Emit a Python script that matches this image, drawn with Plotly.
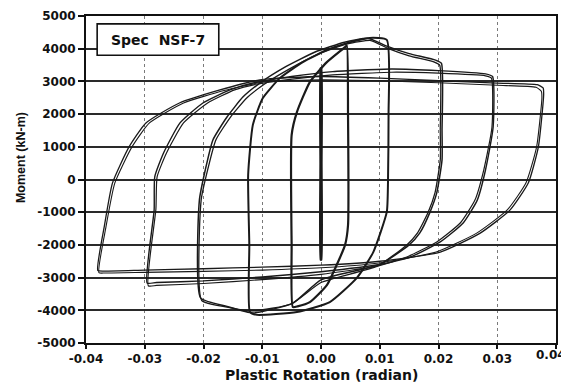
import plotly.graph_objects as go

# ---- data (plastic rotation [rad], moment [kN-m]) ----
cycle1_rot = [0.00005, 0.00008, 0.00005, -0.00005, -0.00008, -0.00005, 0.00005]
cycle1_mom = [3400, 500, -2450, -2450, 500, 3400, 3400]

cycle2_rot = [0.0044, 0.0046, 0.0046, 0.0041, 0.0032, 0.0010, -0.0019, -0.0040, -0.0048,
              -0.0050, -0.0050, -0.0041, -0.0019, 0.0010, 0.0041, 0.0044]
cycle2_mom = [4100, 2000, -1400, -2000, -2400, -3230, -3750, -3880, -3900,
              -2000, 1360, 2060, 2980, 3590, 4050, 4100]

cycle3_rot = [0.0112, 0.0115, 0.0114, 0.0112, 0.0089, 0.0061, 0.0015, -0.0041, -0.0109, -0.0121,
              -0.0122, -0.0124, -0.0116, -0.0099, -0.0070, -0.0031, 0.0010, 0.0044, 0.0083, 0.0112]
cycle3_mom = [4270, 2000, -100, -990, -2220, -3010, -3750, -4050, -4140, -4050,
              -2000, 140, 1670, 2490, 3100, 3590, 3960, 4170, 4330, 4270]

cycle4_rot = [-0.0205, -0.0207, -0.0197, -0.0184, -0.0160, -0.0133, -0.0104, -0.0060, -0.0010,
              0.0040, 0.0080, 0.0112, 0.0150, 0.0195, 0.0205,
              0.0206, 0.0206, 0.0197, 0.0185, 0.0168, 0.0150, 0.0100, 0.0000, -0.0048,
              -0.0116, -0.0160, -0.0205]
cycle4_mom = [-3620, -630, 290, 1210, 1910, 2520, 2950, 3450, 3900,
              4200, 4320, 4080, 3850, 3650, 3550,
              1500, 600, -410, -1020, -1640, -2000, -2600, -3070, -3780,
              -4080, -3880, -3620]

cycle4b_rot = [-0.0203, -0.0204, -0.0193, -0.0179, -0.0154, -0.0126, -0.0096, -0.0052, -0.0003,
               0.0045, 0.0085, 0.0115, 0.0150, 0.0192, 0.0202,
               0.0203, 0.0203, 0.0194, 0.0182, 0.0164, 0.0146, 0.0096, 0.0000, -0.0050,
               -0.0116, -0.0160, -0.0203]
cycle4b_mom = [-3700, -630, 290, 1210, 1910, 2500, 2920, 3400, 3850,
               4150, 4250, 4000, 3780, 3600, 3500,
               1500, 600, -410, -1020, -1640, -2000, -2650, -3150, -3800,
               -4020, -3900, -3700]

cycle5_rot = [-0.0296, -0.0284, -0.0283, -0.0268, -0.0240, -0.0201, -0.0155, -0.0116, -0.0050,
              0.0020, 0.0120, 0.0200, 0.0280, 0.0292,
              0.0293, 0.0280, 0.0266, 0.0242, 0.0203, 0.0152, 0.0100, 0.0000, -0.0100,
              -0.0200, -0.0280, -0.0296]
cycle5_mom = [-3165, -930, 80, 810, 1730, 2340, 2740, 2950, 3150,
              3300, 3380, 3330, 3230, 3150,
              1600, 290, -630, -1330, -1910, -2370, -2600, -2820, -2980,
              -3100, -3150, -3165]

cycle5b_rot = [-0.0294, -0.0281, -0.0279, -0.0263, -0.0234, -0.0193, -0.0147, -0.0108, -0.0045,
               0.0020, 0.0120, 0.0200, 0.0280, 0.0290,
               0.0291, 0.0277, 0.0262, 0.0237, 0.0197, 0.0146, 0.0095, 0.0000, -0.0100,
               -0.0200, -0.0280, -0.0294]
cycle5b_mom = [-3250, -900, 80, 810, 1730, 2340, 2740, 2920, 3080,
               3200, 3280, 3250, 3170, 3100,
               1600, 290, -630, -1330, -1910, -2370, -2650, -2900, -3060,
               -3180, -3240, -3250]

cycle6_rot = [-0.0380, -0.0369, -0.0355, -0.0327, -0.0298, -0.0241, -0.0172, -0.0104, 0.0000,
              0.0100, 0.0200, 0.0300, 0.0368, 0.0378,
              0.0379, 0.0370, 0.0353, 0.0322, 0.0271, 0.0203, 0.0100, 0.0000, -0.0100,
              -0.0200, -0.0300, -0.0370, -0.0380]
cycle6_mom = [-2780, -1450, -110, 990, 1730, 2340, 2740, 3050, 3150,
              3100, 3020, 2950, 2900, 2800,
              2600, 1000, -100, -930, -1640, -2220, -2500, -2620, -2680,
              -2730, -2770, -2800, -2780]

cycle6b_rot = [-0.0378, -0.0366, -0.0351, -0.0322, -0.0292, -0.0234, -0.0165, -0.0098, 0.0000,
               0.0100, 0.0200, 0.0300, 0.0366, 0.0375,
               0.0376, 0.0367, 0.0349, 0.0317, 0.0265, 0.0196, 0.0095, 0.0000, -0.0100,
               -0.0200, -0.0300, -0.0368, -0.0378]
cycle6b_mom = [-2850, -1450, -110, 990, 1730, 2340, 2720, 2980, 3050,
               3020, 2960, 2880, 2820, 2700,
               2500, 1000, -100, -930, -1640, -2220, -2560, -2700, -2770,
               -2810, -2840, -2860, -2850]

x_ticks = [-0.04, -0.03, -0.02, -0.01, 0.0, 0.01, 0.02, 0.03, 0.04]
x_tick_labels = ["-0.04", "-0.03", "-0.02", "-0.01", "0.00", "0.01", "0.02", "0.03", "0.04"]
y_ticks = [5000, 4000, 3000, 2000, 1000, 0, -1000, -2000, -3000, -4000, -5000]
y_tick_labels = [str(v) for v in y_ticks]
specimen_label = "Spec  NSF-7"

cycles = [(cycle1_rot, cycle1_mom, 2.4), (cycle2_rot, cycle2_mom, 2.2), (cycle3_rot, cycle3_mom, 2.0),
          (cycle4_rot, cycle4_mom, 1.5), (cycle4b_rot, cycle4b_mom, 1.3),
          (cycle5_rot, cycle5_mom, 1.4), (cycle5b_rot, cycle5b_mom, 1.2),
          (cycle6_rot, cycle6_mom, 1.3), (cycle6b_rot, cycle6b_mom, 1.1)]

fig = go.Figure()
for i, (xr, ym, w) in enumerate(cycles):
    fig.add_trace(go.Scatter(
        x=xr, y=ym, mode="lines",
        line=dict(color="#1a1a1a", width=w, shape="spline", smoothing=0.5),
        showlegend=False, hoverinfo="skip", name=f"cycle {i+1}"))

tick_font = dict(family="DejaVu Sans", size=12, color="#111", weight="bold")
# last x tick label is drawn as a right-aligned annotation so it stays inside the page
shown_x_labels = x_tick_labels[:-1] + [""]
# the page body adds an 8px offset, so the margins are reduced by 8px on the left/top
fig.update_layout(
    width=569, height=385,
    margin=dict(l=78, r=21, t=8, b=50),
    paper_bgcolor="white", plot_bgcolor="white",
    font=dict(family="DejaVu Sans", color="#111"),
    xaxis=dict(range=[-0.04, 0.04], tickmode="array", tickvals=x_ticks, ticktext=shown_x_labels,
               tickfont=tick_font, ticks="outside", ticklen=4, tickcolor="#111", tickwidth=1.5,
               showgrid=True, gridcolor="#7a7a7a", gridwidth=1, griddash="dot",
               zeroline=False, showline=True, linecolor="#111", linewidth=2, mirror=True,
               automargin=False),
    yaxis=dict(range=[-5000, 5000], tickmode="array", tickvals=y_ticks, ticktext=y_tick_labels,
               tickfont=tick_font, ticks="outside", ticklen=6, tickcolor="#111", tickwidth=1.5,
               showgrid=True, gridcolor="#2a2a2a", gridwidth=1.8,
               zeroline=False, showline=True, linecolor="#111", linewidth=2, mirror=True,
               automargin=False),
)
fig.add_annotation(x=1.0255, y=-0.038, xref="paper", yref="paper", xanchor="right", yanchor="middle",
                   text="<b>" + x_tick_labels[-1] + "</b>", showarrow=False,
                   font=dict(family="DejaVu Sans", size=12, color="#111"))

# specimen label box
fig.add_shape(type="rect", xref="x", yref="y", x0=-0.0381, x1=-0.0174, y0=3800, y1=4760,
              line=dict(color="#111", width=1.6), fillcolor="white", layer="above")
fig.add_annotation(x=-0.02775, y=4280, xref="x", yref="y", text="<b>" + specimen_label + "</b>",
                   showarrow=False, font=dict(family="DejaVu Sans", size=14, color="#111"))

# axis titles
fig.add_annotation(x=0.5, y=-0.098, xref="paper", yref="paper", yanchor="middle",
                   text="<b>Plastic Rotation (radian)</b>", showarrow=False,
                   font=dict(family="DejaVu Sans", size=14, color="#111"))
fig.add_annotation(x=-0.138, y=0.566, xref="paper", yref="paper", xanchor="center", yanchor="middle",
                   text="<b>Moment (kN-m)</b>", textangle=-90, showarrow=False,
                   font=dict(family="Liberation Sans", size=12.5, color="#111"))

fig.write_html("out.html")
